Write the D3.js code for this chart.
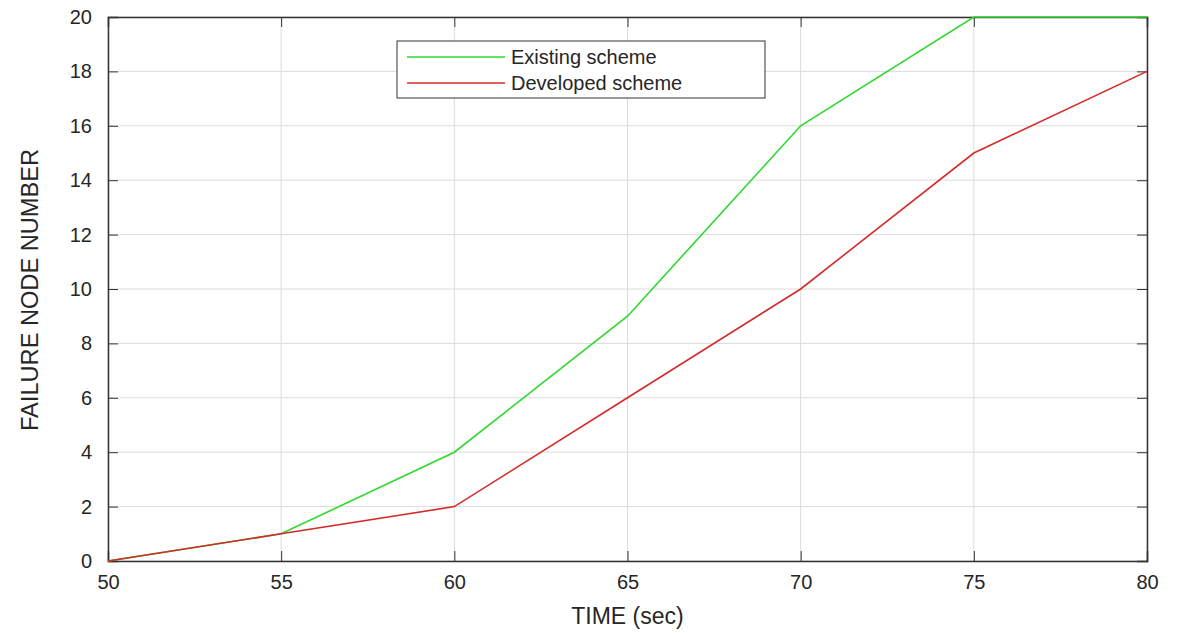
<!DOCTYPE html>
<html>
<head>
<meta charset="utf-8">
<script src="https://cdn.jsdelivr.net/npm/d3@7"></script>
<style>
  body { margin: 0; background: #fff; }
  text { font-family: "Liberation Sans", Arial, sans-serif; fill: #262626; }
</style>
</head>
<body>
<div id="graph"></div>
<script>
var timeVals = [50, 55, 60, 65, 70, 75, 80];
var existingScheme = [0, 1, 4, 9, 16, 20, 20];
var developedScheme = [0, 1, 2, 6, 10, 15, 18];
var xTicks = [50, 55, 60, 65, 70, 75, 80];
var yTicks = [0, 2, 4, 6, 8, 10, 12, 14, 16, 18, 20];
var seriesNames = ["Existing scheme", "Developed scheme"];
var seriesColors = ["#2fd82f", "#d42a2a"];

var W = 1177, H = 633;
var pLeft = 108, pRight = 1147, pTop = 17, pBottom = 561;

var svg = d3.select("#graph").append("svg").attr("width", W).attr("height", H);

var x = d3.scaleLinear().domain([50, 80]).range([pLeft, pRight]);
var y = d3.scaleLinear().domain([0, 20]).range([pBottom, pTop]);

// grid
svg.append("g").selectAll("line").data(xTicks).enter().append("line")
  .attr("x1", function(d){ return x(d); }).attr("x2", function(d){ return x(d); })
  .attr("y1", pTop).attr("y2", pBottom)
  .attr("stroke", "#dcdcdc").attr("stroke-width", 1);
svg.append("g").selectAll("line").data(yTicks).enter().append("line")
  .attr("y1", function(d){ return y(d); }).attr("y2", function(d){ return y(d); })
  .attr("x1", pLeft).attr("x2", pRight)
  .attr("stroke", "#dcdcdc").attr("stroke-width", 1);

// axes
svg.append("g").attr("transform", "translate(0," + pBottom + ")")
  .call(d3.axisBottom(x).tickValues(xTicks).tickSize(-10).tickPadding(14));
svg.append("g").attr("transform", "translate(" + pLeft + ",0)")
  .call(d3.axisLeft(y).tickValues(yTicks).tickSize(-10).tickPadding(16));
svg.append("g").attr("transform", "translate(0," + pTop + ")")
  .call(d3.axisTop(x).tickValues(xTicks).tickSize(-10).tickFormat(""));
svg.append("g").attr("transform", "translate(" + pRight + ",0)")
  .call(d3.axisRight(y).tickValues(yTicks).tickSize(-10).tickFormat(""));

svg.selectAll(".domain").attr("stroke", "#333").attr("stroke-width", 1.5);
svg.selectAll(".tick line").attr("stroke", "#333");
svg.selectAll(".tick text").attr("font-size", 20).attr("fill", "#262626")
  .attr("font-family", "Liberation Sans, Arial, sans-serif");

// lines (developed drawn last, it sits on top where they overlap)
var allSeries = [existingScheme, developedScheme];
var line = d3.line().x(function(d, i){ return x(timeVals[i]); }).y(function(d){ return y(d); });
for (var s = 0; s < allSeries.length; s++) {
  svg.append("path").datum(allSeries[s])
    .attr("d", line)
    .attr("fill", "none")
    .attr("stroke", seriesColors[s])
    .attr("stroke-width", 1.6);
}

// labels
svg.append("text").text("TIME (sec)")
  .attr("x", (pLeft + pRight) / 2).attr("y", 624)
  .attr("text-anchor", "middle").attr("font-size", 23);
svg.append("text").text("FAILURE NODE NUMBER")
  .attr("transform", "translate(38," + 290 + ") rotate(-90)")
  .attr("text-anchor", "middle").attr("font-size", 24)
  .attr("textLength", 282).attr("lengthAdjust", "spacingAndGlyphs");

// legend
var lg = svg.append("g");
lg.append("rect").attr("x", 397).attr("y", 41).attr("width", 368).attr("height", 57)
  .attr("fill", "#fff").attr("stroke", "#333").attr("stroke-width", 1);
for (var k = 0; k < seriesNames.length; k++) {
  var ly = 57 + k * 26;
  lg.append("line").attr("x1", 407).attr("x2", 505).attr("y1", ly).attr("y2", ly)
    .attr("stroke", seriesColors[k]).attr("stroke-width", 1.6);
  lg.append("text").text(seriesNames[k]).attr("x", 511).attr("y", ly + 7)
    .attr("font-size", 20);
}
</script>
</body>
</html>
